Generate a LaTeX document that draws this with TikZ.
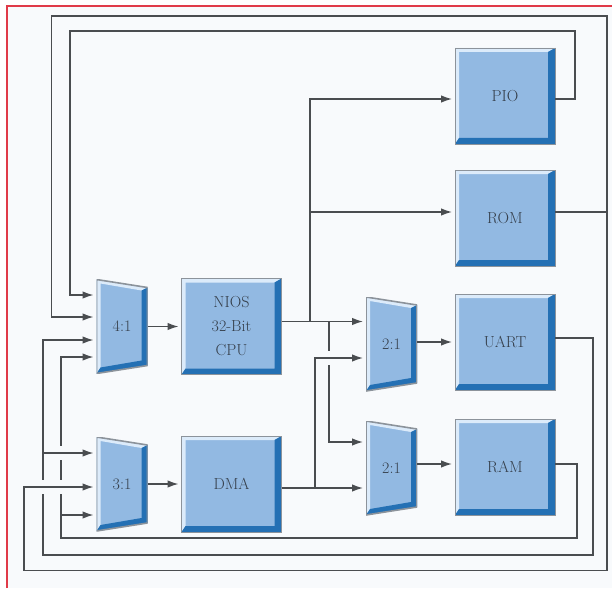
\documentclass[tikz,border=0pt]{standalone}
\usepackage{fontspec}
\usepackage{xcolor}
\definecolor{PageBg}{HTML}{F8FAFC}
\definecolor{FrameRed}{HTML}{E03A48}
\definecolor{BlockBlue}{HTML}{92B9E2}
\definecolor{BlockDark}{HTML}{2470B4}
\definecolor{BlockLight}{HTML}{DCEBFA}
\definecolor{BlockEdge}{HTML}{8C939B}
\definecolor{WireGray}{HTML}{4A4D50}
\definecolor{LabelGray}{HTML}{36404C}
\usepackage{tikz}
\usetikzlibrary{arrows.meta,positioning}

\begin{document}
\begin{tikzpicture}[x=1pt, y=-1pt, >={Latex[length=11pt,width=7.5pt]}, node distance=26pt,
  every node/.style={font=\fontsize{16}{24}\selectfont, align=center, text=LabelGray},
  wire/.style={draw=WireGray, line width=1.4pt},
  flow/.style={wire, ->, shorten >=3pt},
  block/.style={fill=BlockBlue, draw=BlockEdge, line width=.8pt, minimum width=100pt, minimum height=96pt,
    inner sep=0pt, outer sep=0pt,
    path picture={
      \coordinate (nw) at (path picture bounding box.north west);
      \coordinate (ne) at (path picture bounding box.north east);
      \coordinate (se) at (path picture bounding box.south east);
      \coordinate (sw) at (path picture bounding box.south west);
      \fill[BlockLight] (nw) -- (ne) -- ([shift={(-7pt,-4pt)}]ne) -- ([shift={(4pt,-4pt)}]nw) -- ([shift={(4pt,6pt)}]sw) -- (sw) -- cycle;
      \fill[BlockDark] (ne) -- (se) -- (sw) -- ([shift={(4pt,6pt)}]sw) -- ([shift={(-7pt,6pt)}]se) -- ([shift={(-7pt,-4pt)}]ne) -- cycle;
    }},
  mux/.style={minimum width=51pt, minimum height=94pt, inner sep=0pt, outer sep=0pt,
    path picture={
      \coordinate (nw) at (path picture bounding box.north west);
      \coordinate (ne) at ([yshift=-8pt]path picture bounding box.north east);
      \coordinate (se) at ([yshift=8pt]path picture bounding box.south east);
      \coordinate (sw) at (path picture bounding box.south west);
      \fill[BlockBlue] (nw) -- (ne) -- (se) -- (sw) -- cycle;
      \fill[BlockLight] (nw) -- (ne) -- ([shift={(-6pt,-3pt)}]ne) -- ([shift={(4pt,-4pt)}]nw) -- ([shift={(4pt,6pt)}]sw) -- (sw) -- cycle;
      \fill[BlockDark] (ne) -- (se) -- (sw) -- ([shift={(4pt,6pt)}]sw) -- ([shift={(-6pt,5pt)}]se) -- ([shift={(-6pt,-3pt)}]ne) -- cycle;
      \draw[BlockEdge, line width=1.6pt] (nw) -- (ne) -- (se) -- (sw) -- cycle;
    }}]
  \useasboundingbox (0,0) rectangle (612,588);
  \fill[white] (0,0) rectangle (612,588);
  \fill[PageBg] (7,6) rectangle (612,588);
  \draw[FrameRed, line width=1.3pt] (7,588) -- (7,6) -- (612,6);

  \node[mux] (mux41) at (122,326.5) {4:1};
  \node[mux] (mux31) at (122,484) {3:1};
  \node[block, right=34pt of mux41] (cpu) {NIOS\\32-Bit\\CPU};
  \node[block, right=34pt of mux31] (dma) {DMA};
  \node[mux] (muxa) at (391.5,344) {2:1};
  \node[mux] (muxb) at (391.5,468) {2:1};
  \node[block] (pio) at (505,96) {PIO};
  \node[block, below=of pio] (rom) {ROM};
  \node[block] (uart) at (505,342) {UART};
  \node[block, below=29pt of uart] (ram) {RAM};

  \coordinate (m41-in1) at ([yshift=31.5pt]mux41.west);
  \coordinate (m41-in2) at ([yshift=9.5pt]mux41.west);
  \coordinate (m41-in3) at ([yshift=-13.5pt]mux41.west);
  \coordinate (m41-in4) at ([yshift=-30.5pt]mux41.west);
  \coordinate (m31-in1) at ([yshift=31pt]mux31.west);
  \coordinate (m31-in2) at ([yshift=-3pt]mux31.west);
  \coordinate (m31-in3) at ([yshift=-31pt]mux31.west);
  \coordinate (muxa-in2) at ([yshift=-14pt]muxa.west);
  \coordinate (muxb-in1) at ([yshift=26pt]muxb.west);
  \coordinate (cpuout) at ([yshift=5pt]cpu.east);
  \coordinate (dmaout) at ([yshift=-4pt]dma.east);
  \coordinate (pioin) at ([yshift=-3pt]pio.west);
  \coordinate (romin) at ([yshift=6pt]rom.west);
  \coordinate (ramin) at ([yshift=3pt]ram.west);
  \coordinate (tapa) at ([xshift=28.5pt]cpuout);
  \coordinate (tapc) at ([xshift=47.5pt]cpuout);
  \coordinate (uartx) at ([xshift=-53.5pt]m41-in3);
  \coordinate (ramx) at ([xshift=-35.5pt]m41-in4);

  \draw[flow] (mux41) -- (cpu);
  \draw[flow] (mux31) -- (dma);
  \draw[flow] (cpuout) -- (cpuout -| muxa.west);
  \draw[flow] (tapa) |- (pioin);
  \draw[flow] (tapa) |- (romin);
  \draw[flow] (tapc) |- (muxb-in1);
  \draw[flow] (dmaout) -- (dmaout -| muxb.west);
  \draw[flow] (muxa.east |- uart.west) -- (uart.west);
  \draw[flow] (ramin -| muxb.east) -- (ramin);

  \draw[flow] ([yshift=-3pt]pio.east) -- ++(20,0) |- (70,31) |- (m41-in1);
  \draw[flow] ([yshift=6pt]rom.east) -| (607,16) -| ([xshift=-45pt]m41-in2) -- (m41-in2);
  \draw[flow] ([yshift=4pt]uart.east) -| (593,555) -| (uartx) -- (m41-in3);
  \draw[flow] (ramin -| ram.east) -| (577,538) -| (ramx) -- (m41-in4);
  \draw[flow] (ramx |- m31-in3) -- (m31-in3);

  \coordinate (cross1) at (ramx |- m31-in1);
  \coordinate (cross2) at (ramx |- m31-in2);
  \coordinate (cross3) at (uartx |- m31-in2);
  \coordinate (cross4) at (tapc |- muxa-in2);
  \foreach \c in {cross1,cross2,cross3,cross4}
    \fill[PageBg] ([shift={(-2.5pt,-7pt)}]\c) rectangle ([shift={(2.5pt,7pt)}]\c);

  \draw[flow] (uartx |- m31-in1) -- (m31-in1);
  \draw[flow] ([yshift=6pt]rom.east) -| (607,570.5) -| ([xshift=-72.5pt]m31-in2) -- (m31-in2);
  \draw[flow] ([xshift=33.5pt]dmaout) |- (muxa-in2);
\end{tikzpicture}
\end{document}
